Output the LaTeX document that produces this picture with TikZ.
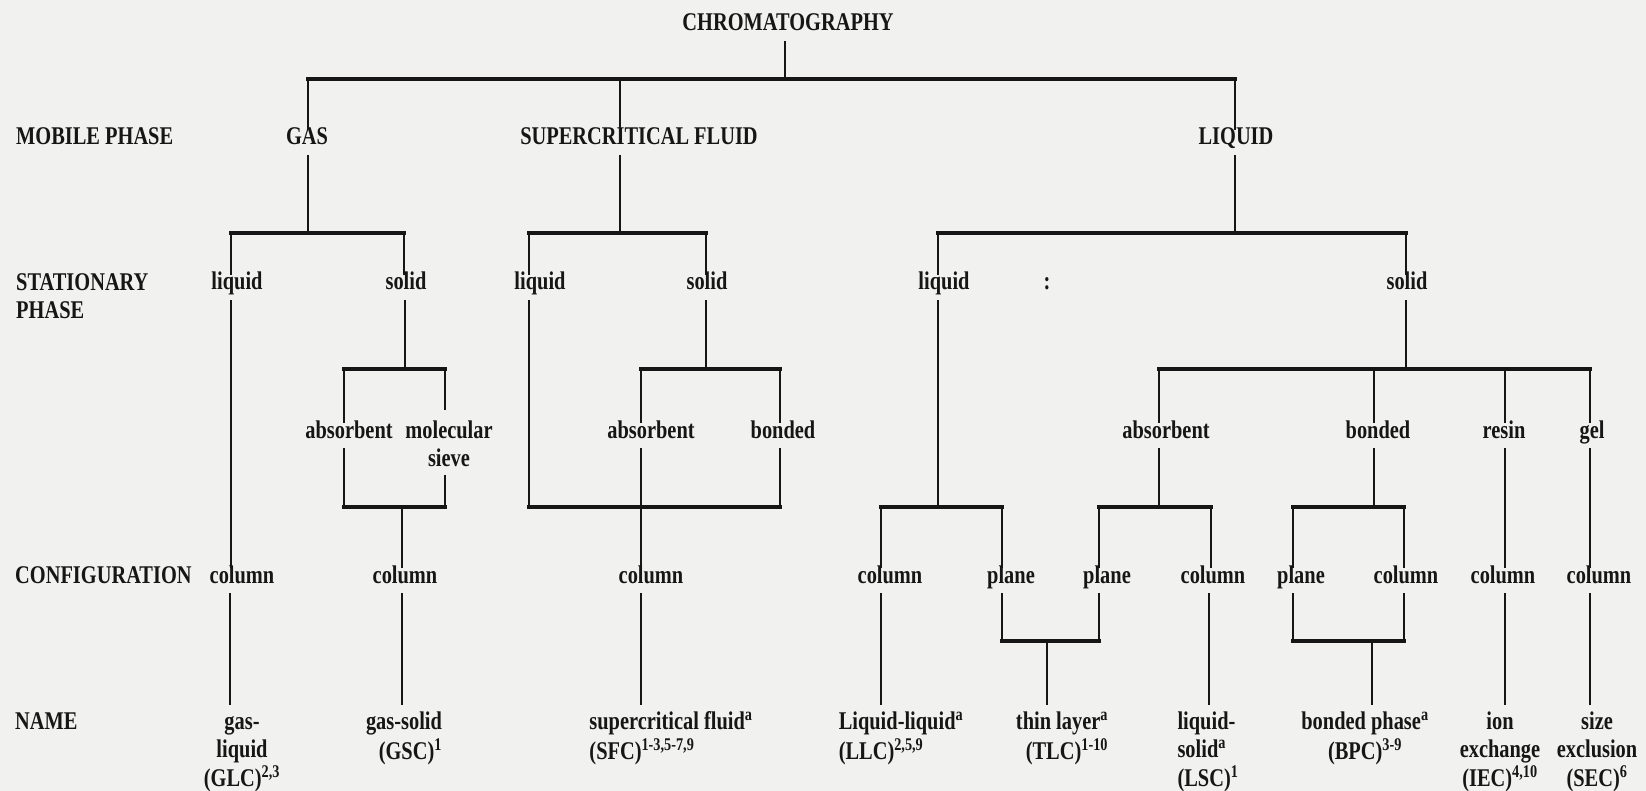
\documentclass[tikz,border=0pt]{standalone}
\usepackage{fontspec}
\setmainfont{Liberation Serif}[FakeStretch=0.8]
\newcommand\dfont{\fontsize{25.5}{28.5}\selectfont\bfseries}
\definecolor{bgc}{RGB}{241,241,239}
\definecolor{ink}{RGB}{22,22,22}
\begin{document}
\begin{tikzpicture}[x=1pt,y=-1pt,
  txt/.style={anchor=base,inner xsep=1pt,inner ysep=8pt,text height=0.7em,text depth=0.2em,font=\dfont,text=ink},
  ml/.style={anchor=north,inner xsep=1pt,inner ysep=8pt,font=\dfont,text=ink,align=center},
  nm/.style={anchor=north,inner xsep=1pt,inner ysep=4pt,font=\dfont,text=ink},
  rowlabel/.style={anchor=base west,inner sep=0pt,font=\dfont,text=ink},
  ln/.style={draw=ink,line width=2.6pt},
  bar/.style={draw=ink,line width=3.6pt,line cap=rect}]
\fill[bgc] (0,0) rectangle (1646,791);
\useasboundingbox (0,0) rectangle (1646,791);

\coordinate (b1) at (0,79);
\coordinate (b2) at (0,233);
\coordinate (b3) at (0,369);
\coordinate (b4) at (0,507);
\coordinate (b5) at (0,641);

% row labels
\node[rowlabel] (rmob) at (16,145) {MOBILE PHASE};
\node[rowlabel,anchor=north west,align=left] (rsta) at (16,270) {\strut STATIONARY\\PHASE};
\node[rowlabel] (rcon) at (15,583) {CONFIGURATION};
\node[rowlabel] (rnam) at (15,729) {NAME};

% top
\node[txt] (chrom) at (788,31) {CHROMATOGRAPHY};

% mobile phase
\node[txt] (gas) at (307,145) {GAS};
\node[txt] (sfl) at (639,145) {SUPERCRITICAL FLUID};
\node[txt] (liq) at (1236,145) {LIQUID};

% stationary phase
\node[txt] (gl) at (237,290) {liquid};
\node[txt] (gs) at (406,290) {solid};
\node[txt] (sl) at (540,290) {liquid};
\node[txt] (ss) at (707,290) {solid};
\node[txt] (ll) at (944,290) {liquid};
\node[txt] (colon) at (1047,290) {:};
\node[txt] (ls) at (1407,290) {solid};

% sub types
\node[txt] (gab) at (349,438) {absorbent};
\node[ml] (gms) at (449,410) {\strut molecular\\sieve};
\node[txt] (sab) at (651,438) {absorbent};
\node[txt] (sbo) at (783,438) {bonded};
\node[txt] (lab) at (1166,438) {absorbent};
\node[txt] (lbo) at (1378,438) {bonded};
\node[txt] (lre) at (1504,438) {resin};
\node[txt] (lge) at (1592,438) {gel};

% configuration
\node[txt] (c1) at (242,583) {column};
\node[txt] (c2) at (405,583) {column};
\node[txt] (c3) at (651,583) {column};
\node[txt] (c4) at (890,583) {column};
\node[txt] (c5) at (1011,583) {plane};
\node[txt] (c6) at (1107,583) {plane};
\node[txt] (c7) at (1213,583) {column};
\node[txt] (c8) at (1301,583) {plane};
\node[txt] (c9) at (1406,583) {column};
\node[txt] (c10) at (1503,583) {column};
\node[txt] (c11) at (1599,583) {column};

% names
\node[nm,align=center] (n1) at (242,705) {\strut gas-\\liquid\\(GLC)\textsuperscript{2,3}};
\node[nm,align=right] (n2) at (404,705) {\strut gas-solid\\(GSC)\textsuperscript{1}};
\node[nm,align=left] (n3) at (671,705) {\strut supercritical fluid\textsuperscript{a}\\(SFC)\textsuperscript{1-3,5-7,9}};
\node[nm,align=left] (n4) at (901,705) {\strut Liquid-liquid\textsuperscript{a}\\(LLC)\textsuperscript{2,5,9}};
\node[nm,align=right] (n5) at (1062,705) {\strut thin layer\textsuperscript{a}\\(TLC)\textsuperscript{1-10}};
\node[nm,align=left] (n6) at (1208,705) {\strut liquid-\\solid\textsuperscript{a}\\(LSC)\textsuperscript{1}};
\node[nm,align=center] (n7) at (1365,705) {\strut bonded phase\textsuperscript{a}\\(BPC)\textsuperscript{3-9}};
\node[nm,align=center] (n8) at (1500,705) {\strut ion\\exchange\\(IEC)\textsuperscript{4,10}};
\node[nm,align=center] (n9) at (1597,705) {\strut size\\exclusion\\(SEC)\textsuperscript{6}};

% ---- level 1
\draw[ln] ([xshift=-3pt]chrom.south) -- ([xshift=-3pt]chrom.south |- b1);
\draw[bar] ([xshift=1pt]gas.north |- b1) -- ([xshift=-1pt]liq.north |- b1);
\draw[ln] ([xshift=1pt]gas.north |- b1) -- ([xshift=1pt]gas.north);
\draw[ln] ([xshift=-19pt]sfl.north |- b1) -- ([xshift=-19pt]sfl.north);
\draw[ln] ([xshift=-1pt]liq.north |- b1) -- ([xshift=-1pt]liq.north);

% ---- level 2
\draw[ln] ([xshift=1pt]gas.south) -- ([xshift=1pt]gas.south |- b2);
\draw[bar] ([xshift=-6pt]gl.north |- b2) -- ([xshift=-2pt]gs.north |- b2);
\draw[ln] ([xshift=-6pt]gl.north |- b2) -- ([xshift=-6pt]gl.north);
\draw[ln] ([xshift=-2pt]gs.north |- b2) -- ([xshift=-2pt]gs.north);
\draw[ln] ([xshift=-19pt]sfl.south) -- ([xshift=-19pt]sfl.south |- b2);
\draw[bar] ([xshift=-11pt]sl.north |- b2) -- ([xshift=-1pt]ss.north |- b2);
\draw[ln] ([xshift=-11pt]sl.north |- b2) -- ([xshift=-11pt]sl.north);
\draw[ln] ([xshift=-1pt]ss.north |- b2) -- ([xshift=-1pt]ss.north);
\draw[ln] ([xshift=-1pt]liq.south) -- ([xshift=-1pt]liq.south |- b2);
\draw[bar] ([xshift=-6pt]ll.north |- b2) -- ([xshift=-1pt]ls.north |- b2);
\draw[ln] ([xshift=-6pt]ll.north |- b2) -- ([xshift=-6pt]ll.north);
\draw[ln] ([xshift=-1pt]ls.north |- b2) -- ([xshift=-1pt]ls.north);

% ---- level 3
\draw[ln] ([xshift=-1pt]gs.south) -- ([xshift=-1pt]gs.south |- b3);
\draw[bar] ([xshift=-5pt]gab.north |- b3) -- ([xshift=-4pt]gms.north |- b3);
\draw[ln] ([xshift=-5pt]gab.north |- b3) -- ([xshift=-5pt]gab.north);
\draw[ln] ([xshift=-4pt]gms.north |- b3) -- ([xshift=-4pt]gms.north);
\draw[ln] ([xshift=-1pt]ss.south) -- ([xshift=-1pt]ss.south |- b3);
\draw[bar] ([xshift=-10pt]sab.north |- b3) -- ([xshift=-3pt]sbo.north |- b3);
\draw[ln] ([xshift=-10pt]sab.north |- b3) -- ([xshift=-10pt]sab.north);
\draw[ln] ([xshift=-3pt]sbo.north |- b3) -- ([xshift=-3pt]sbo.north);
\draw[ln] ([xshift=-1pt]ls.south) -- ([xshift=-1pt]ls.south |- b3);
\draw[bar] ([xshift=-7pt]lab.north |- b3) -- ([xshift=-2pt]lge.north |- b3);
\draw[ln] ([xshift=-7pt]lab.north |- b3) -- ([xshift=-7pt]lab.north);
\draw[ln] ([xshift=-4pt]lbo.north |- b3) -- ([xshift=-4pt]lbo.north);
\draw[ln] ([xshift=1pt]lre.north |- b3) -- ([xshift=1pt]lre.north);
\draw[ln] ([xshift=-2pt]lge.north |- b3) -- ([xshift=-2pt]lge.north);

% ---- level 4
\draw[ln] ([xshift=-6pt]gl.south) -- ([xshift=-6pt]gl.south |- c1.north);
\draw[ln] ([xshift=-5pt]gab.south) -- ([xshift=-5pt]gab.south |- b4);
\draw[ln] ([xshift=-4pt]gms.south) -- ([xshift=-4pt]gms.south |- b4);
\draw[bar] ([xshift=-5pt]gab.south |- b4) -- ([xshift=-4pt]gms.south |- b4);
\draw[ln] ([xshift=-3pt]c2.north |- b4) -- ([xshift=-3pt]c2.north);
\draw[ln] ([xshift=-11pt]sl.south) -- ([xshift=-11pt]sl.south |- b4);
\draw[ln] ([xshift=-3pt]sbo.south) -- ([xshift=-3pt]sbo.south |- b4);
\draw[bar] ([xshift=-11pt]sl.south |- b4) -- ([xshift=-3pt]sbo.south |- b4);
\draw[ln] ([xshift=-10pt]sab.south) -- ([xshift=-10pt]sab.south |- c3.north);
\draw[ln] ([xshift=-6pt]ll.south) -- ([xshift=-6pt]ll.south |- b4);
\draw[bar] ([xshift=-9pt]c4.north |- b4) -- ([xshift=-9pt]c5.north |- b4);
\draw[ln] ([xshift=-9pt]c4.north |- b4) -- ([xshift=-9pt]c4.north);
\draw[ln] ([xshift=-9pt]c5.north |- b4) -- ([xshift=-9pt]c5.north);
\draw[ln] ([xshift=-7pt]lab.south) -- ([xshift=-7pt]lab.south |- b4);
\draw[bar] ([xshift=-8pt]c6.north |- b4) -- ([xshift=-2pt]c7.north |- b4);
\draw[ln] ([xshift=-8pt]c6.north |- b4) -- ([xshift=-8pt]c6.north);
\draw[ln] ([xshift=-2pt]c7.north |- b4) -- ([xshift=-2pt]c7.north);
\draw[ln] ([xshift=-4pt]lbo.south) -- ([xshift=-4pt]lbo.south |- b4);
\draw[bar] ([xshift=-8pt]c8.north |- b4) -- ([xshift=-2pt]c9.north |- b4);
\draw[ln] ([xshift=-8pt]c8.north |- b4) -- ([xshift=-8pt]c8.north);
\draw[ln] ([xshift=-2pt]c9.north |- b4) -- ([xshift=-2pt]c9.north);
\draw[ln] ([xshift=1pt]lre.south) -- ([xshift=1pt]lre.south |- c10.north);
\draw[ln] ([xshift=-2pt]lge.south) -- ([xshift=-2pt]lge.south |- c11.north);

% ---- level 5
\draw[ln] ([xshift=-12pt]c1.south) -- ([xshift=-12pt]c1.south |- n1.north);
\draw[ln] ([xshift=-3pt]c2.south) -- ([xshift=-3pt]c2.south |- n2.north);
\draw[ln] ([xshift=-10pt]c3.south) -- ([xshift=-10pt]c3.south |- n3.north);
\draw[ln] ([xshift=-9pt]c4.south) -- ([xshift=-9pt]c4.south |- n4.north);
\draw[ln] ([xshift=-9pt]c5.south) -- ([xshift=-9pt]c5.south |- b5);
\draw[ln] ([xshift=-8pt]c6.south) -- ([xshift=-8pt]c6.south |- b5);
\draw[bar] ([xshift=-9pt]c5.south |- b5) -- ([xshift=-8pt]c6.south |- b5);
\draw[ln] ([xshift=-15pt]n5.north |- b5) -- ([xshift=-15pt]n5.north);
\draw[ln] ([xshift=-4pt]c7.south) -- ([xshift=-4pt]c7.south |- n6.north);
\draw[ln] ([xshift=-8pt]c8.south) -- ([xshift=-8pt]c8.south |- b5);
\draw[ln] ([xshift=-2pt]c9.south) -- ([xshift=-2pt]c9.south |- b5);
\draw[bar] ([xshift=-8pt]c8.south |- b5) -- ([xshift=-2pt]c9.south |- b5);
\draw[ln] ([xshift=7pt]n7.north |- b5) -- ([xshift=7pt]n7.north);
\draw[ln] ([xshift=2pt]c10.south) -- ([xshift=2pt]c10.south |- n8.north);
\draw[ln] ([xshift=-9pt]c11.south) -- ([xshift=-9pt]c11.south |- n9.north);
\end{tikzpicture}
\end{document}
